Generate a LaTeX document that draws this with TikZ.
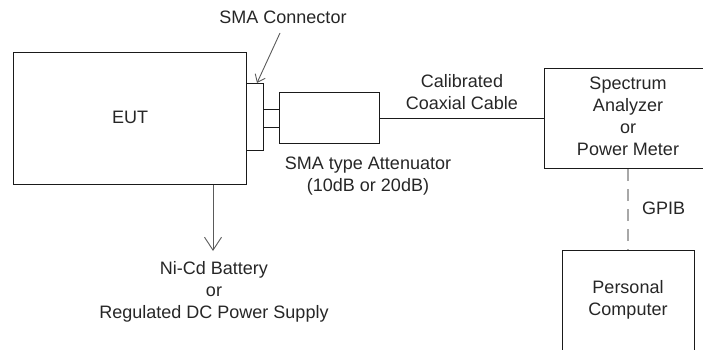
\documentclass[tikz,border=0pt]{standalone}
\usepackage{fontspec}
\setmainfont{Liberation Sans}
\usetikzlibrary{arrows.meta}
\definecolor{linecol}{HTML}{1A1A1A}
\definecolor{arrowcol}{HTML}{5A5A5A}
\definecolor{dashcol}{HTML}{A8A8A8}
\tikzset{
  box/.style={draw=linecol, line width=1pt, inner sep=0pt, anchor=north west},
  lbl/.style={align=center, inner sep=0pt, text=black!85},
  graylink/.style={draw=arrowcol, line width=0.9pt, -{Straight Barb[length=7pt,width=11pt,line width=0.9pt]}},
  bigarrow/.style={draw=arrowcol, line width=0.9pt, -{Straight Barb[length=13pt,width=17pt,line width=0.9pt]}},
}
\begin{document}
\begin{tikzpicture}[x=1pt,y=-1pt, font=\fontsize{18}{22}\selectfont]
\useasboundingbox (0,0) rectangle (703,350);
\clip (0,0) rectangle (703,350);
% EUT
\node[box, minimum width=233pt, minimum height=132pt] (eut) at (13,52) {};
\node[lbl] (euttxt) at (130,117) {EUT};
% SMA connector
\node[box, minimum width=17pt, minimum height=67pt] (sma) at (246,83) {};
% Attenuator
\node[box, minimum width=100pt, minimum height=51pt] (att) at (279,92) {};
\draw[linecol, line width=1pt] (sma.east |- 0,110) -- (att.west |- 0,110);
\draw[linecol, line width=1pt] (sma.east |- 0,127) -- (att.west |- 0,127);
% Spectrum analyzer
\node[box, minimum width=170pt, minimum height=100pt] (sa) at (544,68) {};
\node[lbl] (satxt) at (628,116) {Spectrum\\Analyzer\\or\\Power Meter};
% cable
\draw[linecol, line width=1pt] (att.east) -- (att.east -| sa.west);
\node[lbl] (cable) at (462,92.5) {Calibrated\\Coaxial Cable};
% PC
\node[box, minimum width=132pt, minimum height=120pt] (pc) at (562,250) {};
\node[lbl] (pctxt) at (628,300) {Personal\\Computer};
% GPIB
\draw[dashcol, line width=2.4pt, dash pattern=on 12pt off 8pt] (sa.south -| 628,0) -- (pc.north -| 628,0);
\node[lbl, anchor=west] (gpib) at (642,208) {GPIB};
% SMA connector label
\node[lbl] (smalbl) at (283,17) {SMA Connector};
\coordinate (smatip) at (257,83);
\draw[graylink] (280,33) -- (smatip);
% Attenuator label
\node[lbl] (attlbl) at (368,176) {SMA type Attenuator\\(10dB or 20dB)};
% power
\node[lbl] (pwr) at (214,292) {Ni-Cd Battery\\or\\Regulated DC Power Supply};
\draw[bigarrow] (eut.south -| 213,0) -- (213,251);
\end{tikzpicture}
\end{document}
